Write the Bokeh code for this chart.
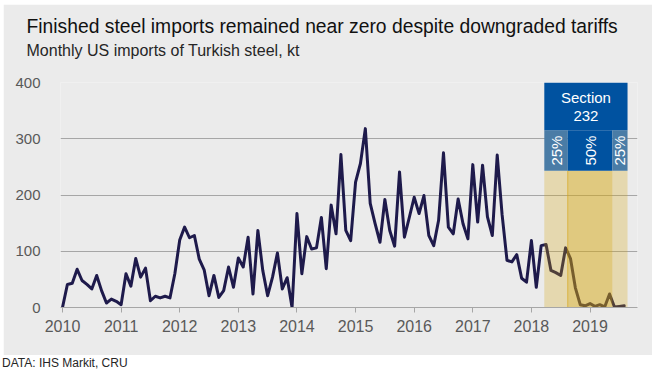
import numpy as np
from bokeh.plotting import figure
from bokeh.models import Range1d, FixedTicker, Title, Div
from bokeh.layouts import column
from bokeh.core.properties import value
from bokeh.embed import file_html
from bokeh.resources import INLINE

# ---------------- data ----------------
start_year = 2010
imports_kt = [
    0, 41, 43, 68, 48, 41, 33, 57, 30, 8, 15, 11,          # 2010
    5, 60, 38, 87, 54, 70, 12, 20, 17, 20, 17, 60,         # 2011
    120, 143, 124, 128, 86, 67, 21, 57, 18, 30, 72, 36,    # 2012
    88, 72, 125, 24, 137, 66, 21, 54, 97, 33, 53, 0,       # 2013
    167, 60, 126, 104, 106, 160, 69, 182, 131, 272, 137, 119,  # 2014
    223, 256, 318, 185, 149, 116, 192, 137, 109, 241, 125, 160,  # 2015
    196, 167, 199, 128, 110, 155, 275, 143, 131, 193, 149, 122,  # 2016
    254, 152, 253, 161, 128, 271, 165, 84, 81, 94, 52, 45,  # 2017
    119, 36, 110, 112, 66, 62, 57, 106, 87, 35, 5, 3,       # 2018
    7, 2, 5, 1, 24, 1, 2, 3,                                # 2019
]
years = list(range(2010, 2020))
tick_labels = [str(y) for y in years]
y_ticks = [0, 100, 200, 300, 400]
phase_starts = [2018.22, 2018.62, 2019.38]   # tariff changes (decimal years)
phase_end = 2019.64
phase_rates = ["25%", "50%", "25%"]
box_title = ["Section", "232"]

# ---------------- styling ----------------
FONT = "Liberation Sans"
BG = "#EBEBEB"
GRID = "#A6A6A6"
NAVY = "#1E1A4B"
DARK_BLUE = "#0052A0"
LIGHT_BLUE = "#4A7CA6"
GOLD = "#D5A50F"
BOX_TOP = 400
HEADER_BOTTOM = 315
RATE_BOTTOM = 243

x = [start_year + i / 12 for i in range(len(imports_kt))]

p = figure(width=649, height=351, output_backend="svg", toolbar_location=None,
           title=None,
           x_range=Range1d(2009.966, 2019.81), y_range=Range1d(0, 400),
           min_border_left=57, min_border_right=15, min_border_bottom=48,
           min_border_top=78,
           background_fill_color=BG, border_fill_color=BG,
           outline_line_color=None, margin=(4, 0, 0, 3))

spacer = Title(text=" ", text_font=FONT, text_font_size="10px", standoff=8)
sub = Title(text="Monthly US imports of Turkish steel, kt", text_font=FONT,
            text_font_size="16px", text_font_style="normal", text_color="#262626",
            align="left", offset=-34, standoff=6)
main = Title(text="Finished steel imports remained near zero despite downgraded tariffs",
             text_font=FONT, text_font_size="19.3px", text_font_style="normal",
             text_color="#111111", align="left", offset=-34, standoff=0)
p.add_layout(spacer, "above")
p.add_layout(sub, "above")
p.add_layout(main, "above")

# grid / axes
p.xgrid.visible = False
p.ygrid.ticker = FixedTicker(ticks=y_ticks[1:])
p.ygrid.grid_line_color = GRID
p.ygrid.grid_line_width = 1

p.yaxis.ticker = FixedTicker(ticks=y_ticks)
p.yaxis.axis_line_color = None
p.yaxis.major_tick_line_color = None
p.yaxis.minor_tick_line_color = None
p.yaxis.major_label_text_font = FONT
p.yaxis.major_label_text_font_size = "15px"
p.yaxis.major_label_text_color = "#595959"
p.yaxis.major_label_standoff = 14

p.xaxis.ticker = FixedTicker(ticks=years)
p.xaxis.major_label_overrides = {y: lab for y, lab in zip(years, tick_labels)}
p.xaxis.axis_line_color = GRID
p.xaxis.major_tick_line_color = GRID
p.xaxis.major_tick_out = 5
p.xaxis.major_tick_in = 0
p.xaxis.minor_tick_line_color = None
p.xaxis.major_label_text_font = FONT
p.xaxis.major_label_text_font_size = "16px"
p.xaxis.major_label_text_color = "#595959"
p.xaxis.major_label_standoff = 7

# series line
p.line(x, imports_kt, line_color=NAVY, line_width=3, line_join="round", line_cap="round")

# tariff shading (drawn over the line)
p.quad(left=[phase_starts[0]], right=[phase_end], bottom=[0], top=[RATE_BOTTOM],
       fill_color=GOLD, fill_alpha=0.27, line_color=None)
p.quad(left=[phase_starts[1]], right=[phase_starts[2]], bottom=[0], top=[RATE_BOTTOM],
       fill_color=GOLD, fill_alpha=0.30, line_color=None)
p.segment(x0=[phase_starts[1]], y0=[0], x1=[phase_starts[1]], y1=[RATE_BOTTOM],
          line_color=GOLD, line_alpha=0.6, line_width=1)

# Section 232 box
rights = phase_starts[1:] + [phase_end]
rate_colors = [DARK_BLUE if r == "50%" else LIGHT_BLUE for r in phase_rates]
p.quad(left=phase_starts, right=rights, bottom=[RATE_BOTTOM] * 3, top=[HEADER_BOTTOM] * 3,
       fill_color=rate_colors, line_color=None)
p.quad(left=[phase_starts[0]], right=[phase_end], bottom=[HEADER_BOTTOM], top=[BOX_TOP],
       fill_color=DARK_BLUE, line_color=None)

cx = (phase_starts[0] + phase_end) / 2
p.text(x=[cx, cx], y=[374, 341], text=box_title, text_font=value(FONT),
       text_font_size="15px", text_color="white", text_align="center",
       text_baseline="middle")
centers = [(a + b) / 2 for a, b in zip(phase_starts, rights)]
p.text(x=centers, y=[(HEADER_BOTTOM + RATE_BOTTOM) / 2] * 3, text=phase_rates,
       angle=np.pi / 2, text_font=value(FONT), text_font_size="15px",
       text_color="white", text_align="center", text_baseline="middle")

footer = Div(text="DATA: IHS Markit, CRU", width=644, height=16, margin=(0, 0, 0, 2),
             styles={"font-family": FONT, "font-size": "12px", "color": "#262626",
                     "line-height": "16px", "padding": "0"})

layout = column(p, footer, spacing=0)
open("out.html", "w").write(file_html(layout, INLINE))
